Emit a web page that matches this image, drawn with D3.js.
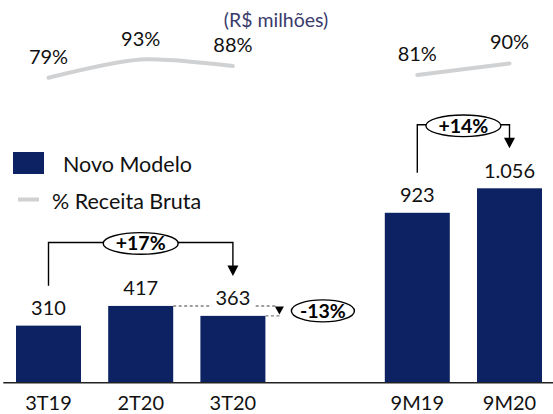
<!DOCTYPE html>
<html>
<head>
<meta charset="utf-8">
<script src="https://cdn.jsdelivr.net/npm/d3@7"></script>
<style>
  html, body { margin: 0; padding: 0; background: #fff; }
  svg { display: block; font-family: Lato, "Open Sans", sans-serif; }
</style>
</head>
<body>
<script>
// data
var categories = ["3T19", "2T20", "3T20", "", "9M19", "9M20"];
var barCats = ["3T19", "2T20", "3T20", "9M19", "9M20"];
var barValues = [310, 417, 363, 923, 1056];
var barLabels = ["310", "417", "363", "923", "1.056"];
var pctQuarterCats = ["3T19", "2T20", "3T20"];
var pctQuarter = [79, 93, 88];
var pctNineCats = ["9M19", "9M20"];
var pctNine = [81, 90];
var growthLabels = ["+17%", "+14%"];
var growthFrom = ["3T19", "9M19"];
var growthTo = ["3T20", "9M20"];
var dropLabel = "-13%";
var dropFrom = "2T20", dropTo = "3T20";

var W = 553, H = 414;
var navy = "#0c2262", gray = "#d0d1d3";

var svg = d3.select("body").append("svg").attr("width", W).attr("height", H);

var x = d3.scaleBand().domain(categories).range([2.4, 555.6])
    .paddingInner(0.295).paddingOuter(0.1475);
var y = d3.scaleLinear().domain([0, 1056]).range([382.7, 188.3]);
var yp = d3.scaleLinear().domain([79, 93]).range([77.7, 59.5]);

var valueOf = {};
barCats.forEach(function(c, i) { valueOf[c] = barValues[i]; });
function cx(c) { return x(c) + x.bandwidth() / 2; }

// bars
svg.append("g").selectAll("rect").data(barCats).enter().append("rect")
    .attr("x", function(d) { return x(d); })
    .attr("y", function(d, i) { return y(barValues[i]); })
    .attr("width", x.bandwidth())
    .attr("height", function(d, i) { return y(0) - y(barValues[i]); })
    .attr("fill", navy);

// -13% dashed comparison (behind labels)
var drop = svg.append("g").attr("stroke", "#808080").attr("stroke-width", 1.4)
    .attr("stroke-dasharray", "3,2.5");
var dropX = x(dropTo) + x.bandwidth() + 14;
drop.append("line")
    .attr("x1", x(dropFrom) + x.bandwidth()).attr("x2", dropX - 4)
    .attr("y1", y(valueOf[dropFrom])).attr("y2", y(valueOf[dropFrom]));
drop.append("line")
    .attr("x1", x(dropTo) + x.bandwidth()).attr("x2", dropX + 1)
    .attr("y1", y(valueOf[dropTo])).attr("y2", y(valueOf[dropTo]));
svg.append("path")
    .attr("d", "M" + (dropX - 4.5) + "," + (y(valueOf[dropFrom]) + 0.5) +
        " l9,0 l-4.5,8 z")
    .attr("fill", "#000");

// value labels
var labels = svg.append("g").attr("font-size", "20px").attr("fill", "#111")
    .attr("text-anchor", "middle");
barCats.forEach(function(c, i) {
  var t = labels.append("text")
      .attr("x", cx(c)).attr("y", y(barValues[i]) - 10.5)
      .text(barLabels[i]);
  if (c === dropTo) {
    var bb = t.node().getBBox();
    labels.insert("rect", "text:last-child")
        .attr("x", bb.x - 4).attr("y", bb.y).attr("width", bb.width + 8).attr("height", bb.height)
        .attr("fill", "#fff");
  }
});

// drop ellipse
svg.append("ellipse")
    .attr("cx", x(dropTo) + x.bandwidth() + 57.5)
    .attr("cy", (y(valueOf[dropFrom]) + y(valueOf[dropTo])) / 2)
    .attr("rx", 31.5).attr("ry", 11)
    .attr("fill", "#fff").attr("stroke", "#000").attr("stroke-width", 1.4);
svg.append("text")
    .attr("x", x(dropTo) + x.bandwidth() + 57.5)
    .attr("y", (y(valueOf[dropFrom]) + y(valueOf[dropTo])) / 2)
    .attr("dy", "0.36em").attr("text-anchor", "middle")
    .attr("font-size", "19.5px").attr("font-weight", "bold")
    .text(dropLabel);

// growth brackets
growthLabels.forEach(function(lbl, i) {
  var a = growthFrom[i], b = growthTo[i];
  var span = categories.slice(categories.indexOf(a), categories.indexOf(b) + 1)
      .filter(function(c) { return c in valueOf; });
  var top = y(d3.max(span, function(c) { return valueOf[c]; })) - 63.5;
  var x1 = cx(a), x2 = cx(b);
  var y1 = y(valueOf[a]) - 40, y2 = y(valueOf[b]) - 40;
  var g = svg.append("g");
  g.append("path")
      .attr("d", "M" + x1 + "," + y1 + " L" + x1 + "," + top + " L" + x2 + "," + top +
          " L" + x2 + "," + (y2 - 9))
      .attr("fill", "none").attr("stroke", "#000").attr("stroke-width", 1.4);
  g.append("path")
      .attr("d", "M" + (x2 - 5.5) + "," + (y2 - 10.5) + " l11,0 l-5.5,10.5 z")
      .attr("fill", "#000");
  var mx = (x1 + x2) / 2;
  g.append("ellipse")
      .attr("cx", mx).attr("cy", top + 1)
      .attr("rx", 37.5).attr("ry", 10.8)
      .attr("fill", "#fff").attr("stroke", "#000").attr("stroke-width", 1.4);
  g.append("text")
      .attr("x", mx).attr("y", top + 1).attr("dy", "0.36em")
      .attr("text-anchor", "middle")
      .attr("font-size", "19.5px").attr("font-weight", "bold")
      .text(lbl);
});

// % receita bruta lines
var line = d3.line().curve(d3.curveCardinal.tension(0.2))
    .x(function(d) { return cx(d[0]); })
    .y(function(d) { return yp(d[1]); });
[[pctQuarterCats, pctQuarter], [pctNineCats, pctNine]].forEach(function(s) {
  var pts = s[0].map(function(c, i) { return [c, s[1][i]]; });
  svg.append("path").datum(pts)
      .attr("d", line)
      .attr("fill", "none").attr("stroke", gray).attr("stroke-width", 4)
      .attr("stroke-linecap", "round");
  svg.append("g").selectAll("text").data(pts).enter().append("text")
      .attr("x", function(d) { return cx(d[0]); })
      .attr("y", function(d) { return yp(d[1]) - 14; })
      .attr("text-anchor", "middle").attr("font-size", "20px").attr("fill", "#111")
      .text(function(d) { return d[1] + "%"; });
});

// unit title
svg.append("text")
    .attr("x", 276).attr("y", 27).attr("text-anchor", "middle")
    .attr("font-size", "19.5px").attr("fill", "#3a3b6b")
    .text("(R$ milhões)");

// axis
var axis = svg.append("g").attr("transform", "translate(0," + y(0) + ")")
    .call(d3.axisBottom(x).tickSize(0).tickSizeOuter(0).tickPadding(13.5));
axis.select(".domain").attr("stroke", "#222").attr("stroke-width", 1.5)
    .attr("d", "M3.3,0H553");
axis.selectAll("text").attr("font-size", "20px").attr("fill", "#111")
    .attr("font-family", "Lato, sans-serif");

// legend
var legend = svg.append("g").attr("font-size", "21.5px").attr("fill", "#111");
legend.append("rect").attr("x", 13).attr("y", 152).attr("width", 31).attr("height", 22)
    .attr("fill", navy);
legend.append("text").attr("x", 63).attr("y", 172).text("Novo Modelo");
legend.append("line").attr("x1", 18).attr("x2", 39).attr("y1", 199.5).attr("y2", 199.5)
    .attr("stroke", gray).attr("stroke-width", 4);
legend.append("text").attr("x", 52).attr("y", 209).text("% Receita Bruta");
</script>
</body>
</html>
